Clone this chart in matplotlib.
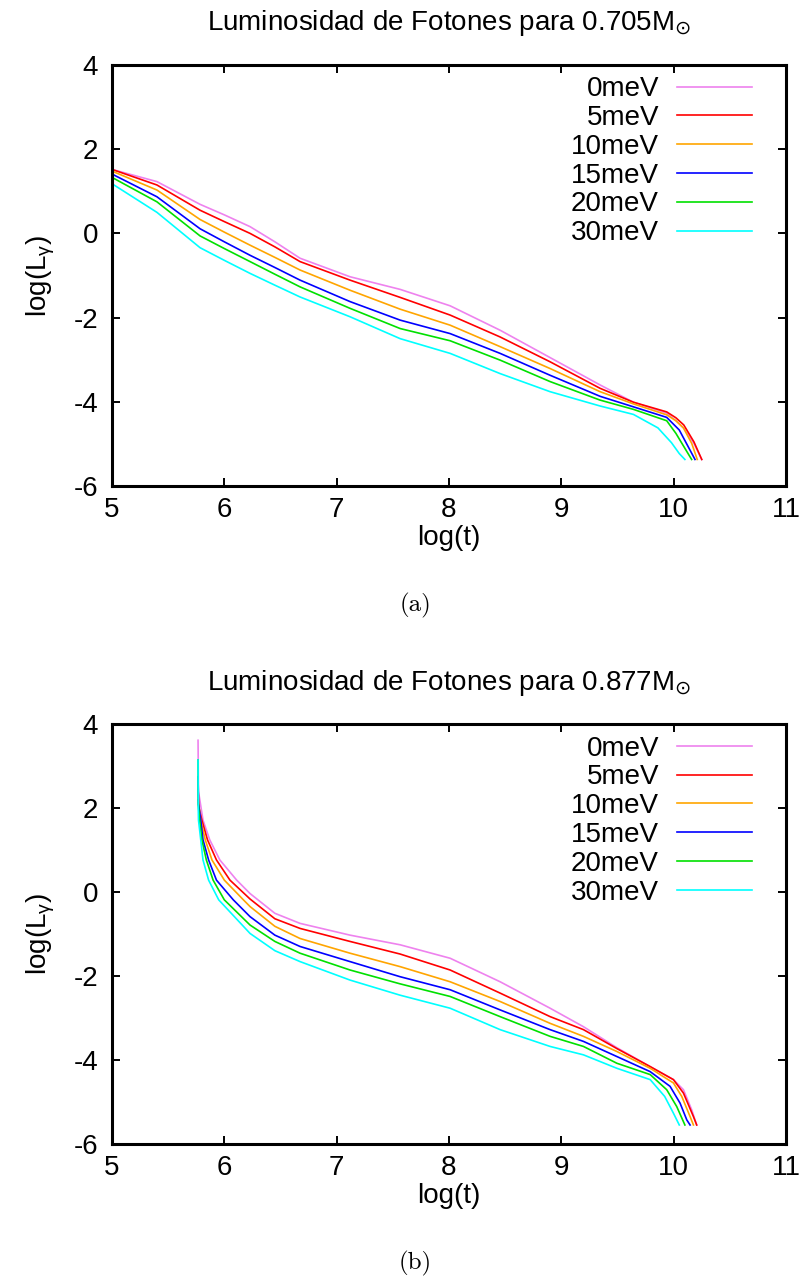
import matplotlib
matplotlib.use("Agg")
import matplotlib.pyplot as plt

plt.rcParams['font.family'] = ['Liberation Sans', 'DejaVu Sans']
plt.rcParams['mathtext.fontset'] = 'custom'
plt.rcParams['mathtext.rm'] = 'Liberation Sans'
plt.rcParams['mathtext.it'] = 'Liberation Sans:italic'
plt.rcParams['mathtext.sf'] = 'DejaVu Sans'
plt.rcParams['axes.unicode_minus'] = False

labels = ["0meV", "5meV", "10meV", "15meV", "20meV", "30meV"]
colors = ["#ee82ee", "#ff0000", "#ffa500", "#0000ff", "#00e000", "#00ffff"]

# ---- panel (a): 0.705 Msun ----
t_a_0 = [5.0, 5.4, 5.784, 6.0, 6.229, 6.45, 6.674, 7.119, 7.565, 8.010, 8.455, 8.900, 9.345, 9.642, 9.938, 10.02, 10.09, 10.18, 10.25]
L_a_0 = [1.52, 1.23, 0.69, 0.44, 0.16, -0.20, -0.59, -1.03, -1.33, -1.72, -2.30, -2.95, -3.60, -4.01, -4.27, -4.45, -4.63, -4.99, -5.37]
t_a_5 = [5.0, 5.4, 5.784, 6.0, 6.229, 6.45, 6.674, 7.119, 7.565, 8.010, 8.455, 8.900, 9.345, 9.642, 9.938, 10.02, 10.09, 10.18, 10.25]
L_a_5 = [1.52, 1.15, 0.55, 0.28, 0.0, -0.32, -0.67, -1.11, -1.52, -1.94, -2.46, -3.05, -3.68, -4.01, -4.24, -4.38, -4.55, -4.95, -5.37]
t_a_10 = [5.0, 5.4, 5.784, 6.0, 6.229, 6.45, 6.674, 7.119, 7.565, 8.010, 8.455, 8.900, 9.345, 9.642, 9.938, 10.02, 10.087, 10.161, 10.21]
L_a_10 = [1.48, 1.03, 0.33, 0.03, -0.28, -0.57, -0.87, -1.35, -1.80, -2.18, -2.69, -3.21, -3.76, -4.05, -4.31, -4.45, -4.62, -4.99, -5.37]
t_a_15 = [5.0, 5.4, 5.784, 6.0, 6.229, 6.45, 6.674, 7.119, 7.565, 8.010, 8.455, 8.900, 9.345, 9.642, 9.938, 10.05, 10.13, 10.19]
L_a_15 = [1.41, 0.87, 0.11, -0.20, -0.52, -0.81, -1.11, -1.62, -2.06, -2.38, -2.85, -3.37, -3.87, -4.12, -4.37, -4.67, -5.07, -5.37]
t_a_20 = [5.0, 5.4, 5.784, 6.0, 6.229, 6.45, 6.674, 7.119, 7.565, 8.010, 8.455, 8.900, 9.345, 9.642, 9.938, 10.02, 10.11, 10.16]
L_a_20 = [1.33, 0.75, -0.06, -0.36, -0.67, -0.97, -1.27, -1.78, -2.26, -2.55, -3.01, -3.52, -3.96, -4.18, -4.45, -4.75, -5.15, -5.37]
t_a_30 = [5.0, 5.4, 5.784, 6.0, 6.229, 6.45, 6.674, 7.119, 7.565, 8.010, 8.455, 8.900, 9.345, 9.642, 9.86, 9.98, 10.05, 10.10]
L_a_30 = [1.18, 0.50, -0.34, -0.64, -0.95, -1.23, -1.51, -1.98, -2.50, -2.85, -3.33, -3.76, -4.10, -4.30, -4.62, -4.97, -5.23, -5.37]

# ---- panel (b): 0.877 Msun ----
t_b_0 = [5.766, 5.770, 5.81, 5.87, 5.96, 6.11, 6.229, 6.45, 6.674, 7.119, 7.565, 8.010, 8.455, 8.900, 9.197, 9.494, 9.791, 9.998, 10.087, 10.161, 10.205]
L_b_0 = [3.62, 2.4, 1.72, 1.25, 0.77, 0.29, -0.03, -0.50, -0.74, -1.02, -1.25, -1.57, -2.13, -2.76, -3.20, -3.70, -4.15, -4.46, -4.70, -5.18, -5.54]
t_b_5 = [5.766, 5.775, 5.80, 5.85, 5.93, 6.05, 6.229, 6.45, 6.674, 7.119, 7.565, 8.010, 8.455, 8.900, 9.197, 9.494, 9.791, 9.998, 10.087, 10.176, 10.205]
L_b_5 = [2.2, 2.0, 1.72, 1.25, 0.77, 0.29, -0.16, -0.63, -0.86, -1.17, -1.47, -1.85, -2.40, -2.96, -3.27, -3.72, -4.15, -4.46, -4.78, -5.34, -5.54]
t_b_10 = [5.766, 5.772, 5.79, 5.83, 5.89, 6.00, 6.17, 6.229, 6.45, 6.674, 7.119, 7.565, 8.010, 8.455, 8.900, 9.197, 9.494, 9.791, 9.998, 10.072, 10.146, 10.176]
L_b_10 = [2.45, 2.1, 1.72, 1.25, 0.77, 0.29, -0.18, -0.34, -0.81, -1.10, -1.45, -1.77, -2.13, -2.60, -3.12, -3.43, -3.79, -4.19, -4.54, -4.86, -5.34, -5.54]
t_b_15 = [5.766, 5.770, 5.79, 5.81, 5.86, 5.93, 6.08, 6.229, 6.45, 6.674, 7.119, 7.565, 8.010, 8.455, 8.900, 9.197, 9.494, 9.791, 9.968, 10.057, 10.117, 10.146]
L_b_15 = [2.75, 2.1, 1.72, 1.25, 0.77, 0.29, -0.18, -0.58, -1.02, -1.29, -1.65, -2.01, -2.32, -2.80, -3.27, -3.55, -3.91, -4.27, -4.62, -5.02, -5.42, -5.54]
t_b_20 = [5.766, 5.768, 5.78, 5.80, 5.84, 5.90, 6.00, 6.229, 6.45, 6.674, 7.119, 7.565, 8.010, 8.455, 8.900, 9.197, 9.494, 9.791, 9.938, 10.027, 10.10]
L_b_20 = [3.15, 2.1, 1.72, 1.25, 0.77, 0.29, -0.18, -0.78, -1.17, -1.45, -1.85, -2.18, -2.48, -2.96, -3.43, -3.67, -4.07, -4.34, -4.70, -5.10, -5.54]
t_b_30 = [5.766, 5.767, 5.77, 5.79, 5.81, 5.86, 5.95, 6.229, 6.45, 6.674, 7.119, 7.565, 8.010, 8.455, 8.900, 9.197, 9.494, 9.791, 9.92, 9.998, 10.05]
L_b_30 = [3.15, 2.1, 1.72, 1.25, 0.77, 0.29, -0.18, -0.98, -1.39, -1.65, -2.09, -2.45, -2.76, -3.27, -3.67, -3.87, -4.19, -4.46, -4.86, -5.26, -5.54]

panel_a = [(t_a_0, L_a_0), (t_a_5, L_a_5), (t_a_10, L_a_10), (t_a_15, L_a_15), (t_a_20, L_a_20), (t_a_30, L_a_30)]
panel_b = [(t_b_0, L_b_0), (t_b_5, L_b_5), (t_b_10, L_b_10), (t_b_15, L_b_15), (t_b_20, L_b_20), (t_b_30, L_b_30)]

FS = 20


def drawPanel(ax, series, title):
    for (t, L), lab, col in zip(series, labels, colors):
        ax.plot(t, L, color=col, lw=1.2, label=lab)
    ax.set_xlim(5, 11)
    ax.set_ylim(-6, 4)
    ax.set_xticks([5, 6, 7, 8, 9, 10, 11])
    ax.set_yticks([-6, -4, -2, 0, 2, 4])
    ax.tick_params(direction='in', length=6, width=1.4, labelsize=FS,
                   top=True, right=True)
    ax.tick_params(axis='x', pad=8)
    ax.tick_params(axis='y', pad=10)
    for s in ax.spines.values():
        s.set_linewidth(2.2)
    ax.set_xlabel("log(t)", fontsize=FS)
    ax.set_ylabel(r"log(L$_{\mathrm{γ}}$)", fontsize=FS)
    ax.xaxis.set_label_coords(0.5, -0.093)
    ax.yaxis.set_label_coords(-0.082, 0.5)
    ax.set_title(title, fontsize=FS, pad=25)
    ax.legend(loc='upper right', bbox_to_anchor=(0.9496, 0.973), frameon=False,
              markerfirst=False, fontsize=FS, handlelength=2.7, handletextpad=0.65,
              labelspacing=0.10, borderaxespad=0, borderpad=0)


fig = plt.figure(figsize=(8.08, 12.84), dpi=100)
ax1 = fig.add_axes([0.13861, 0.62150, 0.83416, 0.32788])
ax2 = fig.add_axes([0.13861, 0.10880, 0.83416, 0.32710])
drawPanel(ax1, panel_a, r"Luminosidad de Fotones para 0.705$\mathregular{M}_{\mathsf{⊙}}$")
drawPanel(ax2, panel_b, r"Luminosidad de Fotones para 0.877$\mathregular{M}_{\mathsf{⊙}}$")
fig.text(415 / 808, 1 - 605 / 1284, "(a)", family='cmr10', fontsize=18, ha='center', va='center')
fig.text(415 / 808, 1 - 1263 / 1284, "(b)", family='cmr10', fontsize=18, ha='center', va='center')
fig.savefig("out.png", dpi=100)
